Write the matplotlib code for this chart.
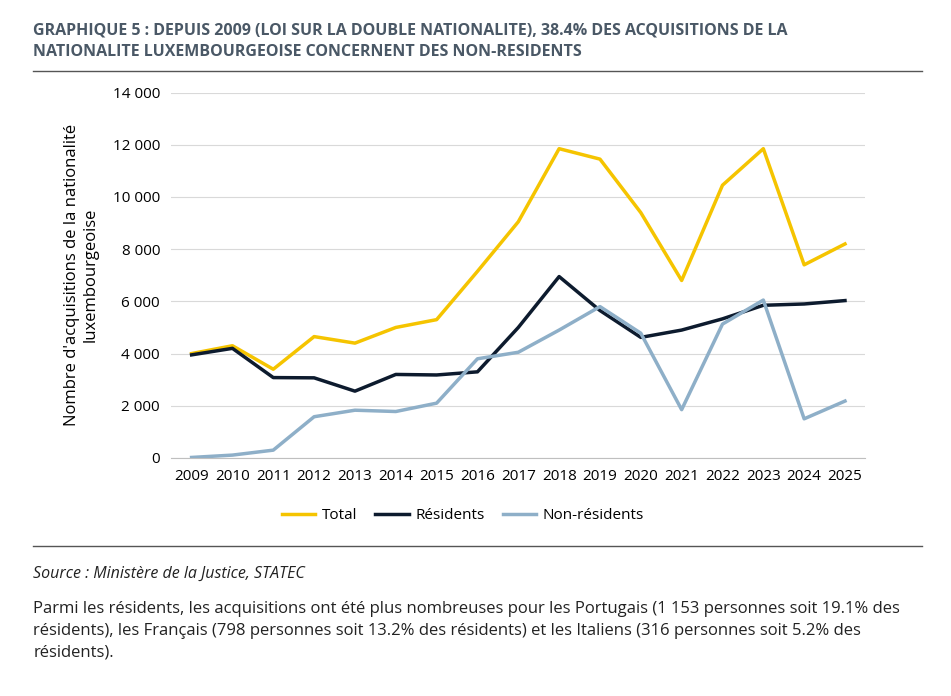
import matplotlib
matplotlib.use("Agg")
import matplotlib.pyplot as plt

years = list(range(2009, 2026))
total = [4000, 4300, 3400, 4650, 4400, 5000, 5300, 7150, 9050, 11850, 11450, 9400, 6800, 10450, 11850, 7400, 8200]
residents = [3950, 4200, 3080, 3070, 2560, 3200, 3180, 3300, 5000, 6950, 5650, 4620, 4900, 5330, 5850, 5900, 6030]
non_residents = [20, 110, 300, 1580, 1830, 1780, 2100, 3800, 4050, 4900, 5800, 4780, 1850, 5130, 6050, 1500, 2180]

plt.rcParams['font.family'] = ['Open Sans', 'DejaVu Sans']
fig = plt.figure(figsize=(9.51, 6.96), dpi=100)
ax = fig.add_axes([0.18, 0.342, 0.73, 0.525])

ax.plot(years, total, color='#F5C400', lw=2.5, label='Total')
ax.plot(years, residents, color='#0D1B2E', lw=2.5, label='Résidents')
ax.plot(years, non_residents, color='#8EAFC8', lw=2.5, label='Non-résidents')

ax.set_ylim(0, 14000)
ax.set_xlim(2008.5, 2025.5)
ax.set_yticks(range(0, 14001, 2000))
ax.set_yticklabels([f"{v:,}".replace(",", " ") for v in range(0, 14001, 2000)])
ax.set_xticks(years)
ax.tick_params(labelsize=11, length=0, pad=8)
ax.grid(axis='y', color='#d9d9d9', lw=0.8)
ax.set_axisbelow(True)
for s in ['top', 'right', 'left']:
    ax.spines[s].set_visible(False)
ax.spines['bottom'].set_color('#bfbfbf')
ax.set_ylabel("Nombre d'acquisitions de la nationalité\nluxembourgeoise", fontsize=12, labelpad=10)
ax.legend(loc='upper center', bbox_to_anchor=(0.42, -0.1), ncol=3, frameon=False, fontsize=11,
          handlelength=2.2, handletextpad=0.4, columnspacing=1.2)

title_c = '#4a5866'
fig.text(0.035, 0.967, "GRAPHIQUE 5 : DEPUIS 2009 (LOI SUR LA DOUBLE NATIONALITE), 38.4% DES ACQUISITIONS DE LA\nNATIONALITE LUXEMBOURGEOISE CONCERNENT DES NON-RESIDENTS",
         fontsize=11.5, fontweight='bold', color=title_c, va='top', linespacing=1.4)
fig.add_artist(plt.Line2D([0.035, 0.97], [0.898, 0.898], color='#555555', lw=1))
fig.add_artist(plt.Line2D([0.035, 0.97], [0.215, 0.215], color='#555555', lw=1))
fig.text(0.035, 0.176, "Source : Ministère de la Justice, STATEC", fontsize=11.5, style='italic', color='#222222', va='center')
fig.text(0.035, 0.137, "Parmi les résidents, les acquisitions ont été plus nombreuses pour les Portugais (1 153 personnes soit 19.1% des\nrésidents), les Français (798 personnes soit 13.2% des résidents) et les Italiens (316 personnes soit 5.2% des\nrésidents).",
         fontsize=12, color='#222222', va='top', linespacing=1.5)
fig.savefig('out.png', dpi=100)
